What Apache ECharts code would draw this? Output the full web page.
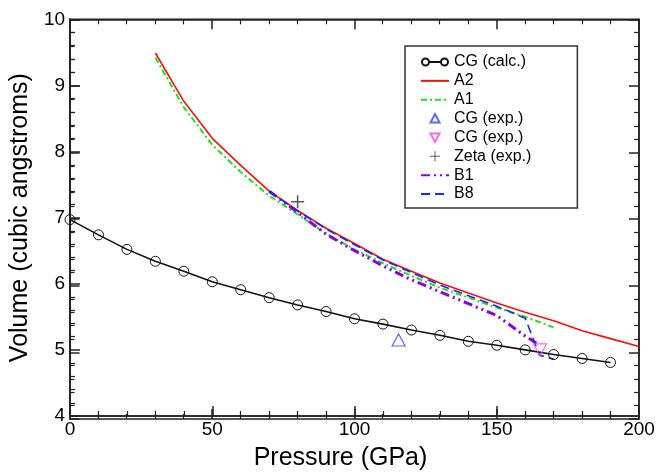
<!DOCTYPE html>
<html><head><meta charset="utf-8">
<script src="https://cdn.jsdelivr.net/npm/echarts@6/dist/echarts.min.js"></script>
<style>html,body{margin:0;padding:0;background:#fff}#c{width:671px;height:476px}</style>
</head><body><div id="c"></div>
<script>
// ---- data ----
const cgCalcP = [0,10,20,30,40,50,60,70,80,90,100,110,120,130,140,150,160,170,180,190];
const cgCalcV = [6.97,6.74,6.52,6.34,6.19,6.03,5.91,5.79,5.68,5.58,5.47,5.39,5.30,5.22,5.13,5.07,5.00,4.93,4.87,4.81];
const a2P = [30,40,50,60,70,80,90,100,110,120,130,140,150,160,170,180,190,200];
const a2V = [9.49,8.76,8.20,7.79,7.40,7.11,6.84,6.61,6.37,6.19,6.01,5.86,5.71,5.57,5.44,5.29,5.17,5.05];
const a1P = [30,40,50,60,70,80,90,100,110,120,130,140,150,160,170];
const a1V = [9.42,8.67,8.10,7.69,7.33,7.05,6.76,6.52,6.31,6.12,5.94,5.79,5.64,5.50,5.34];
const cgExp1P = [115.5];
const cgExp1V = [5.15];
const cgExp2P = [165.2];
const cgExp2V = [5.00];
const zetaP = [80];
const zetaV = [7.24];
const b1P = [70,80,90,100,110,120,130,140,150,160,164];
const b1V = [7.40,7.08,6.75,6.50,6.27,6.06,5.88,5.70,5.52,5.21,5.10];
const b8P = [70,80,90,100,110,120,130,140,150,160,165,170];
const b8V = [7.40,7.10,6.83,6.59,6.36,6.17,5.98,5.82,5.66,5.48,4.92,4.86];
const xTicks = {min:0, max:200, interval:50};
const yTicks = {min:4, max:10, interval:1};

const pairs = (xs, ys) => xs.map((x,i)=>[x, ys[i]]);
const FONT = 'Liberation Sans, Arial, sans-serif';

function axisCommon(extra){
  return Object.assign({
    axisLine:{show:true, onZero:false, lineStyle:{color:'#222', width:1.5}},
    axisTick:{show:true, inside:true, length:10, lineStyle:{color:'#222', width:1.5}},
    minorTick:{show:true, splitNumber:5, length:5, lineStyle:{color:'#222', width:1.2}},
    splitLine:{show:false},
    minorSplitLine:{show:false}
  }, extra);
}

// legend icons (bbox 28x14 so they are not stretched)
const ICON_UP = 'path://M0,0M28,14M14,2.5L18.5,11L9.5,11Z';
const ICON_DOWN = 'path://M0,0M28,14M14,11.5L18.5,3L9.5,3Z';
const ICON_PLUS = 'path://M0,0M28,14M13.5,2H14.5V6.5H19V7.5H14.5V12H13.5V7.5H9V6.5H13.5Z';
const ICON_CALC = 'path://M0,0M28,14M1,7A3.5,3.5,0,1,0,8,7A3.5,3.5,0,1,0,1,7ZM8,7L20,7M20,7A3.5,3.5,0,1,0,27,7A3.5,3.5,0,1,0,20,7Z';
const hideSym = {color:'rgba(0,0,0,0)', borderWidth:0, opacity:0};

const gridRect = {left:69.5, right:32, top:19.3, bottom:57};

const chart = echarts.init(document.getElementById('c'));
chart.setOption({
  animation:false,
  grid:[
    Object.assign({show:true, borderColor:'#222', borderWidth:1.5, backgroundColor:'rgba(0,0,0,0)'}, gridRect),
    Object.assign({}, gridRect)
  ],
  legend:{
    orient:'vertical', left:405, top:46,
    padding:[8, 46, 6, 15],
    itemWidth:28, itemHeight:14, itemGap:2.86,
    borderColor:'#333', borderWidth:1.5, backgroundColor:'#fff',
    textStyle:{fontFamily:FONT, fontSize:16, color:'#000', lineHeight:16},
    data:[
      {name:'CG (calc.)', icon:ICON_CALC},
      {name:'A2', itemStyle:hideSym},
      {name:'A1', itemStyle:hideSym},
      {name:'CG (exp.) ', icon:ICON_UP},
      {name:'CG (exp.)', icon:ICON_DOWN},
      {name:'Zeta (exp.)', icon:ICON_PLUS},
      {name:'B1', itemStyle:hideSym},
      {name:'B8', itemStyle:hideSym}
    ]
  },
  xAxis:[
    axisCommon({gridIndex:0, type:'value', position:'bottom', min:xTicks.min, max:xTicks.max, interval:xTicks.interval,
      name:'Pressure (GPa)', nameLocation:'middle', nameGap:30,
      nameTextStyle:{fontFamily:FONT, fontSize:25, color:'#000', padding:[0,28,0,0]},
      axisLabel:{fontFamily:FONT, fontSize:19, color:'#000', margin:4}}),
    axisCommon({gridIndex:1, type:'value', position:'bottom', min:xTicks.min, max:xTicks.max, interval:xTicks.interval,
      axisLabel:{show:false}}),
    axisCommon({gridIndex:1, type:'value', position:'top', min:xTicks.min, max:xTicks.max, interval:xTicks.interval,
      axisLabel:{show:false}})
  ],
  yAxis:[
    axisCommon({gridIndex:0, type:'value', position:'left', min:yTicks.min, max:yTicks.max, interval:yTicks.interval,
      name:'Volume (cubic angstroms)', nameLocation:'middle', nameGap:28,
      nameTextStyle:{fontFamily:FONT, fontSize:25, color:'#000'},
      axisLabel:{fontFamily:FONT, fontSize:19, color:'#000', margin:5}}),
    axisCommon({gridIndex:1, type:'value', position:'left', min:yTicks.min, max:yTicks.max, interval:yTicks.interval,
      axisLabel:{show:false}}),
    axisCommon({gridIndex:1, type:'value', position:'right', min:yTicks.min, max:yTicks.max, interval:yTicks.interval,
      axisLabel:{show:false}})
  ],
  series:[
    {name:'CG (calc.)', type:'line', data:pairs(cgCalcP, cgCalcV), smooth:false,
      symbol:'circle', symbolSize:10, showAllSymbol:true,
      itemStyle:{color:'rgba(255,255,255,0)', borderColor:'#111', borderWidth:1},
      lineStyle:{color:'#111', width:1.6}, z:5},
    {name:'A2', type:'line', data:pairs(a2P, a2V), symbol:'none',
      itemStyle:{color:'#ee1111'}, lineStyle:{color:'#ee1111', width:1.6}, z:3},
    {name:'A1', type:'line', data:pairs(a1P, a1V), symbol:'none',
      itemStyle:{color:'#22dd22'}, lineStyle:{color:'#22dd22', width:2, type:[6,3,2,3]}, z:2},
    {name:'CG (exp.) ', type:'scatter', data:pairs(cgExp1P, cgExp1V), symbol:'triangle', symbolSize:[13,12],
      itemStyle:{color:'rgba(255,255,255,0)', borderColor:'#3344ff', borderWidth:1.2}, z:6},
    {name:'CG (exp.)', type:'scatter', data:pairs(cgExp2P, cgExp2V), symbol:'triangle', symbolRotate:180, symbolSize:[13,12],
      itemStyle:{color:'rgba(255,255,255,0)', borderColor:'#ee44ee', borderWidth:1.2}, z:6},
    {name:'Zeta (exp.)', type:'scatter', data:pairs(zetaP, zetaV),
      symbol:'path://M4.4,0H5.6V4.4H10V5.6H5.6V10H4.4V5.6H0V4.4H4.4Z', symbolSize:13,
      itemStyle:{color:'#333'}, z:6},
    {name:'B1', type:'line', data:pairs(b1P, b1V), symbol:'none',
      itemStyle:{color:'#8a00dd'}, lineStyle:{color:'#8a00dd', width:3, type:[9,4,2,4,2,4]}, z:4},
    {name:'B8', type:'line', data:pairs(b8P, b8V), symbol:'none',
      itemStyle:{color:'#1a2aee'}, lineStyle:{color:'#1a2aee', width:1.6, type:[9,5]}, z:4}
  ]
});
</script></body></html>
